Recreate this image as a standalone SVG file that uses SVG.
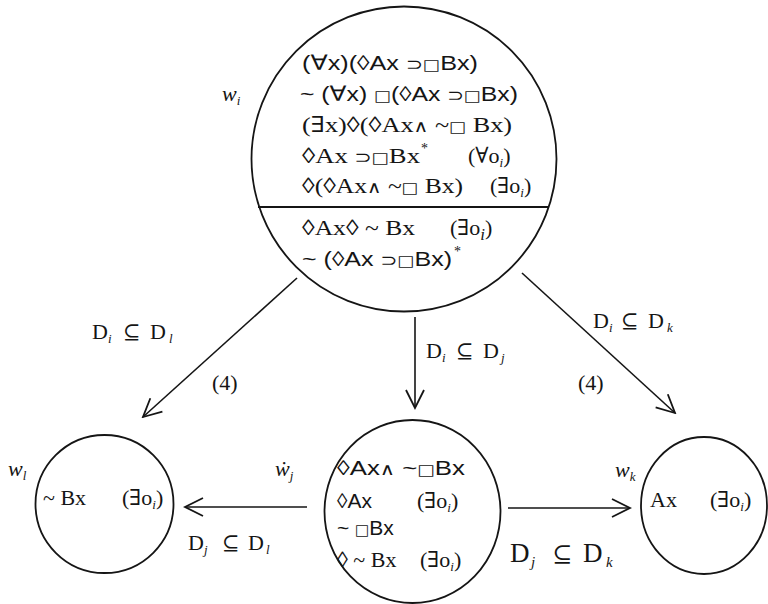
<svg xmlns="http://www.w3.org/2000/svg" width="768" height="604" viewBox="0 0 768 604">
<style>
.bg{fill:#ffffff}
.node{fill:none;stroke:#151515;stroke-width:1.8}
.edge{fill:none;stroke:#151515;stroke-width:1.6}
.s{font-family:"Liberation Sans","DejaVu Sans",sans-serif;font-size:21px;fill:#151515}
.r{font-family:"Liberation Serif","DejaVu Serif",serif;font-size:22px;fill:#151515}
.w{font-family:"Liberation Serif","DejaVu Serif",serif;font-style:italic;font-size:22px;fill:#151515}
.sub{font-family:"Liberation Serif","DejaVu Serif",serif;font-style:italic;font-size:13px}
.sq{font-family:"DejaVu Sans",sans-serif;font-size:15px}
.op{font-family:"DejaVu Sans",sans-serif;font-size:17px}
.an{font-family:"DejaVu Sans",sans-serif;font-size:17px}
.ss{font-family:"DejaVu Serif",serif;font-size:21px}
</style>
<defs>
<marker id="ah" viewBox="-2 -11 22 22" refX="18" refY="0" markerWidth="22" markerHeight="22" markerUnits="userSpaceOnUse" orient="auto">
<path d="M0,-9 L18,0 L0,9" fill="none" stroke="#151515" stroke-width="1.8"/>
</marker>
</defs>
<rect class="bg" x="0" y="0" width="768" height="604"/>

<g id="connectors">
<line class="edge" x1="297" y1="278" x2="143" y2="417" marker-end="url(#ah)"/>
<line class="edge" x1="415" y1="317" x2="415" y2="408" marker-end="url(#ah)"/>
<line class="edge" x1="522" y1="273" x2="675" y2="413" marker-end="url(#ah)"/>
<line class="edge" x1="307" y1="507" x2="185" y2="507" marker-end="url(#ah)"/>
<line class="edge" x1="508" y1="508" x2="630" y2="508" marker-end="url(#ah)"/>
<text class="r" y="339"><tspan x="92">D</tspan><tspan class="sub" x="108" dy="4">i</tspan><tspan class="ss" x="123" dy="-4">⊆</tspan><tspan x="150">D</tspan><tspan class="sub" x="169" dy="4">l</tspan></text>
<text class="r" x="212" y="390">(4)</text>
<text class="r" y="358"><tspan x="426">D</tspan><tspan class="sub" x="442" dy="4">i</tspan><tspan class="ss" x="456" dy="-4">⊆</tspan><tspan x="483">D</tspan><tspan class="sub" x="501" dy="4">j</tspan></text>
<text class="r" y="328"><tspan x="593">D</tspan><tspan class="sub" x="609" dy="4">i</tspan><tspan class="ss" x="621" dy="-4">⊆</tspan><tspan x="648">D</tspan><tspan class="sub" x="667" dy="4">k</tspan></text>
<text class="r" x="578" y="390">(4)</text>
<text class="r" y="550"><tspan x="188">D</tspan><tspan class="sub" x="204" dy="4">j</tspan><tspan class="ss" x="222" dy="-4">⊆</tspan><tspan x="248">D</tspan><tspan class="sub" x="266" dy="4">l</tspan></text>
<text class="r" y="562" style="font-size:27px"><tspan x="510">D</tspan><tspan class="sub" x="531" dy="5" style="font-size:15px">j</tspan><tspan class="ss" x="552" dy="-5" style="font-size:24px">⊆</tspan><tspan x="583">D</tspan><tspan class="sub" x="606" dy="5" style="font-size:15px">k</tspan></text>
</g>

<g id="node-wi">
<circle class="node" cx="404" cy="159" r="152.5"/>
<line class="node" x1="258" y1="207" x2="549" y2="207"/>
<text class="w" x="222" y="101">w<tspan class="sub" dy="4">i</tspan></text>
<text class="s" x="302" y="70" textLength="176" lengthAdjust="spacingAndGlyphs">(∀x)(◊Ax <tspan class="op">⊃</tspan><tspan class="sq">□</tspan>Bx)</text>
<text class="s" x="300" y="101" textLength="218" lengthAdjust="spacingAndGlyphs">~ (∀x) <tspan class="sq">□</tspan>(◊Ax <tspan class="op">⊃</tspan><tspan class="sq">□</tspan>Bx)</text>
<text class="r" x="302" y="132" textLength="210" lengthAdjust="spacingAndGlyphs">(∃x)◊(◊Ax<tspan class="an">∧</tspan> ~<tspan class="sq">□</tspan> Bx)</text>
<text class="r" x="302" y="163" textLength="118" lengthAdjust="spacingAndGlyphs">◊Ax <tspan class="op">⊃</tspan><tspan class="sq">□</tspan>Bx</text>
<text class="r" x="421" y="153" style="font-size:14px">*</text>
<text class="r" x="468" y="163">(∀o<tspan class="sub" dy="4">i</tspan><tspan dy="-4">)</tspan></text>
<text class="r" x="302" y="193" textLength="161" lengthAdjust="spacingAndGlyphs">◊(◊Ax<tspan class="an">∧</tspan> ~<tspan class="sq">□</tspan> Bx)</text>
<text class="r" x="490" y="193">(∃o<tspan class="sub" dy="4">i</tspan><tspan dy="-4">)</tspan></text>
<text class="r" x="302" y="235" textLength="113" lengthAdjust="spacingAndGlyphs">◊Ax◊ ~ Bx</text>
<text class="r" x="450" y="235">(∃o<tspan class="sub" dy="5" style="font-size:17px">i</tspan><tspan dy="-5">)</tspan></text>
<text class="s" x="302" y="266" textLength="150" lengthAdjust="spacingAndGlyphs">~ (◊Ax <tspan class="op">⊃</tspan><tspan class="sq">□</tspan>Bx)</text>
<text class="r" x="454" y="256" style="font-size:14px">*</text>
</g>

<g id="node-wl">
<circle class="node" cx="104.5" cy="504" r="69"/>
<text class="w" x="8" y="476">w<tspan class="sub" dy="4">l</tspan></text>
<text class="r" x="43" y="505">~ Bx</text>
<text class="r" x="122" y="505">(∃o<tspan class="sub" dy="4">i</tspan><tspan dy="-4">)</tspan></text>
</g>

<g id="node-wj">
<ellipse class="node" cx="412.5" cy="511.5" rx="88" ry="91.5"/>
<text class="w" x="275" y="476">ẇ<tspan class="sub" dy="4">j</tspan></text>
<text class="s" x="337" y="475" textLength="128" lengthAdjust="spacingAndGlyphs">◊Ax<tspan class="an">∧</tspan> ~<tspan class="sq">□</tspan>Bx</text>
<text class="s" x="337" y="508">◊Ax</text>
<text class="r" x="417" y="508">(∃o<tspan class="sub" dy="4">i</tspan><tspan dy="-4">)</tspan></text>
<text class="s" x="337" y="535">~ <tspan class="sq">□</tspan>Bx</text>
<text class="r" x="337" y="567">◊ ~ Bx</text>
<text class="r" x="420" y="567">(∃o<tspan class="sub" dy="4">i</tspan><tspan dy="-4">)</tspan></text>
</g>

<g id="node-wk">
<ellipse class="node" cx="704" cy="505.5" rx="63" ry="68.5"/>
<text class="w" x="615" y="477">w<tspan class="sub" dy="4">k</tspan></text>
<text class="r" x="650" y="507">Ax</text>
<text class="r" x="710" y="507">(∃o<tspan class="sub" dy="4">i</tspan><tspan dy="-4">)</tspan></text>
</g>
</svg>
